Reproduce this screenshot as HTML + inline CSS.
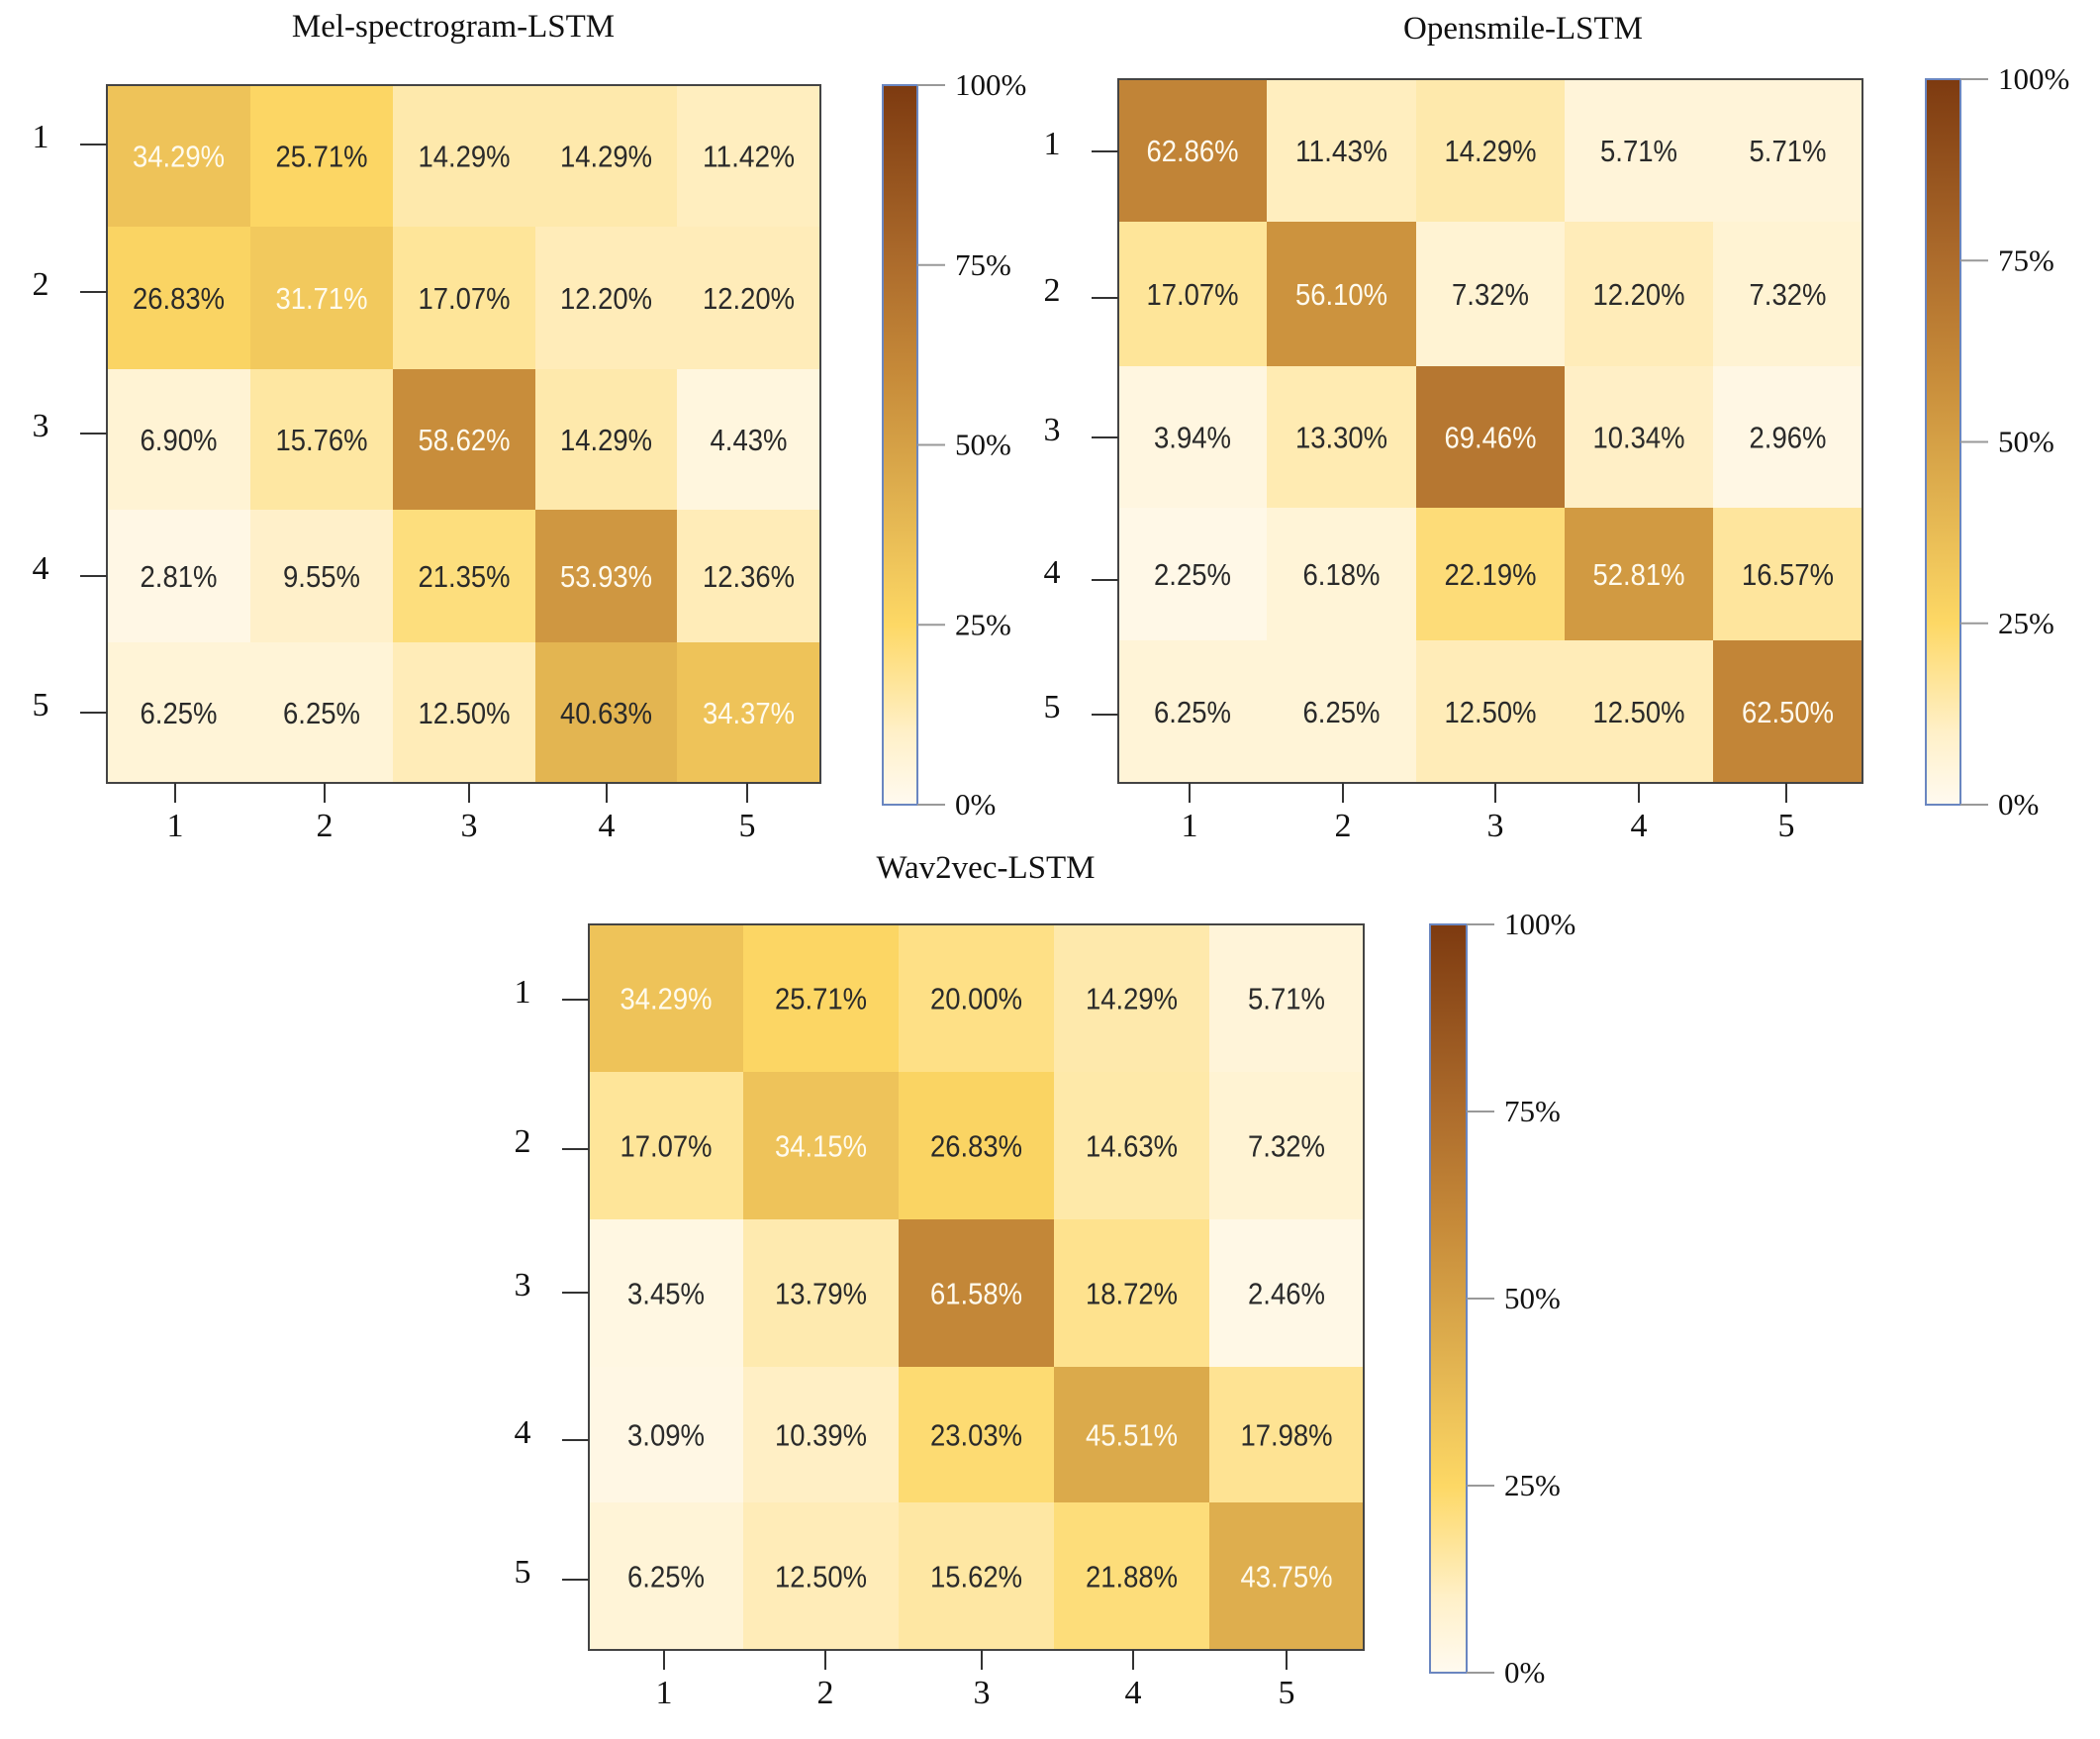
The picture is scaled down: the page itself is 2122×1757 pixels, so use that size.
<!DOCTYPE html>
<html><head><meta charset="utf-8"><style>
html,body{margin:0;padding:0;background:#fff;}
svg{display:block;}
.serif{font-family:"Liberation Serif",serif;fill:#111;}
.cell{font-family:"Liberation Sans",sans-serif;}
</style></head><body>
<svg id="fig" width="2122" height="1757" viewBox="0 0 2122 1757" xmlns="http://www.w3.org/2000/svg">
<defs>
<linearGradient id="cmap" x1="0" y1="1" x2="0" y2="0">
<stop offset="0" stop-color="#fffaf0"/>
<stop offset="0.1" stop-color="#fff0c8"/>
<stop offset="0.25" stop-color="#fdd865"/>
<stop offset="0.45" stop-color="#dcab4c"/>
<stop offset="0.6" stop-color="#c68a39"/>
<stop offset="0.75" stop-color="#ad6c2c"/>
<stop offset="1" stop-color="#7d3a10"/>
</linearGradient>
</defs>
</svg>
<script>
const classLabels = ["1","2","3","4","5"];
const melValues = [
 [34.29,25.71,14.29,14.29,11.42],
 [26.83,31.71,17.07,12.20,12.20],
 [6.90,15.76,58.62,14.29,4.43],
 [2.81,9.55,21.35,53.93,12.36],
 [6.25,6.25,12.50,40.63,34.37]];
const opensmileValues = [
 [62.86,11.43,14.29,5.71,5.71],
 [17.07,56.10,7.32,12.20,7.32],
 [3.94,13.30,69.46,10.34,2.96],
 [2.25,6.18,22.19,52.81,16.57],
 [6.25,6.25,12.50,12.50,62.50]];
const wav2vecValues = [
 [34.29,25.71,20.00,14.29,5.71],
 [17.07,34.15,26.83,14.63,7.32],
 [3.45,13.79,61.58,18.72,2.46],
 [3.09,10.39,23.03,45.51,17.98],
 [6.25,12.50,15.62,21.88,43.75]];
const colorbarTicks = [0,25,50,75,100];
const chartTitles = ["Mel-spectrogram-LSTM","Opensmile-LSTM","Wav2vec-LSTM"];

const NS="http://www.w3.org/2000/svg";
const svg=document.getElementById('fig');
function mk(tag,attrs,parent){const e=document.createElementNS(NS,tag);for(const k in attrs)e.setAttribute(k,attrs[k]);(parent||svg).appendChild(e);return e;}

const stops=[[0,[255,250,240]],[0.1,[255,240,200]],[0.25,[253,216,101]],[0.45,[220,171,76]],[0.6,[198,138,57]],[0.75,[173,108,44]],[1,[125,58,16]]];
function color(v){const t=Math.max(0,Math.min(1,v/100));for(let i=1;i<stops.length;i++){if(t<=stops[i][0]){const a=stops[i-1],b=stops[i];const f=(t-a[0])/(b[0]-a[0]);const c=a[1].map((x,j)=>Math.round(x+(b[1][j]-x)*f));return `rgb(${c.join(',')})`;}}return 'rgb(125,58,16)';}

function drawChart(cfg){
 const g=mk('g',{});
 
 
 const t=mk('text',{x:cfg.titleX,y:cfg.titleY,'text-anchor':'middle','font-size':33,class:'serif'},g);
 t.textContent=cfg.title;
 
 
 const n=classLabels.length;
 const xScale=j=>cfg.cols[j], yScale=i=>cfg.rows[i];
 for(let i=0;i<n;i++)for(let j=0;j<n;j++){
  const v=cfg.values[i][j];
  const x0=xScale(j),x1=xScale(j+1),y0=yScale(i),y1=yScale(i+1);
  const r=mk('rect',{x:x0,y:y0,width:x1-x0+0.5,height:y1-y0+0.5,fill:color(v)},g);
  
  
  const tx=mk('text',{x:(x0+x1)/2,y:(y0+y1)/2+11,'text-anchor':'middle','font-size':31,class:'cell',fill:i===j?'#fffbee':'#2a2a2a',textLength:v>=10?93:78,lengthAdjust:'spacingAndGlyphs'},g);
  tx.textContent=v.toFixed(2)+'%';
  
  
 }
 const b=mk('rect',{x:cfg.cols[0],y:cfg.rows[0],width:cfg.cols[n]-cfg.cols[0],height:cfg.rows[n]-cfg.rows[0],fill:'none',stroke:'#444',"stroke-width":2},g);
 
 
 for(let k=0;k<n;k++){
  const xt=cfg.xticks[k];
  mk('line',{x1:xt,x2:xt,y1:cfg.rows[n],y2:cfg.rows[n]+20,stroke:'#333','stroke-width':2},g);
  const lx=mk('text',{x:xt,y:cfg.rows[n]+54,'text-anchor':'middle','font-size':34,class:'serif'},g);
  lx.textContent=classLabels[k];
  
  
  const yt=cfg.yticks[k];
  mk('line',{x1:cfg.cols[0]-27,x2:cfg.cols[0],y1:yt,y2:yt,stroke:'#333','stroke-width':2},g);
  const ly=mk('text',{x:cfg.cols[0]-67,y:yt+3,'text-anchor':'middle','font-size':34,class:'serif'},g);
  ly.textContent=classLabels[k];
  
  
 }
 const cb=cfg.cb;
 const cr=mk('rect',{x:cb.x,y:cb.top,width:cb.w,height:cb.bottom-cb.top,fill:'url(#cmap)',stroke:'#6a86c0','stroke-width':2},g);
 
 
 colorbarTicks.forEach(tv=>{
  const y=cb.bottom-(cb.bottom-cb.top)*tv/100;
  mk('line',{x1:cb.x+cb.w,x2:cb.x+cb.w+28,y1:y,y2:y,stroke:'#999','stroke-width':2},g);
  const l=mk('text',{x:cb.x+cb.w+38,y:y+10,'font-size':31,class:'serif'},g);
  l.textContent=tv+'%';
  
  
 });
}

drawChart({name:'mel-spectrogram-heatmap',title:chartTitles[0],titleX:458,titleY:37,values:melValues,
 cols:[108,253,397,541,684,829],rows:[86,229,373,515,649,791],
 xticks:[177,328,474,613,755],yticks:[146,295,438,582,720],
 cb:{x:892,w:35,top:86,bottom:813}});
drawChart({name:'opensmile-heatmap',title:chartTitles[1],titleX:1539,titleY:39,values:opensmileValues,
 cols:[1130,1280,1431,1581,1731,1882],rows:[80,224,370,513,647,791],
 xticks:[1202,1357,1511,1656,1805],yticks:[153,301,442,586,722],
 cb:{x:1946,w:35,top:80,bottom:813}});
drawChart({name:'wav2vec-heatmap',title:chartTitles[2],titleX:996,titleY:887,values:wav2vecValues,
 cols:[595,751,908,1065,1222,1378],rows:[934,1083,1232,1381,1518,1667],
 xticks:[671,834,992,1145,1300],yticks:[1010,1161,1306,1455,1596],
 cb:{x:1445,w:37,top:934,bottom:1690}});
</script>
</body></html>
